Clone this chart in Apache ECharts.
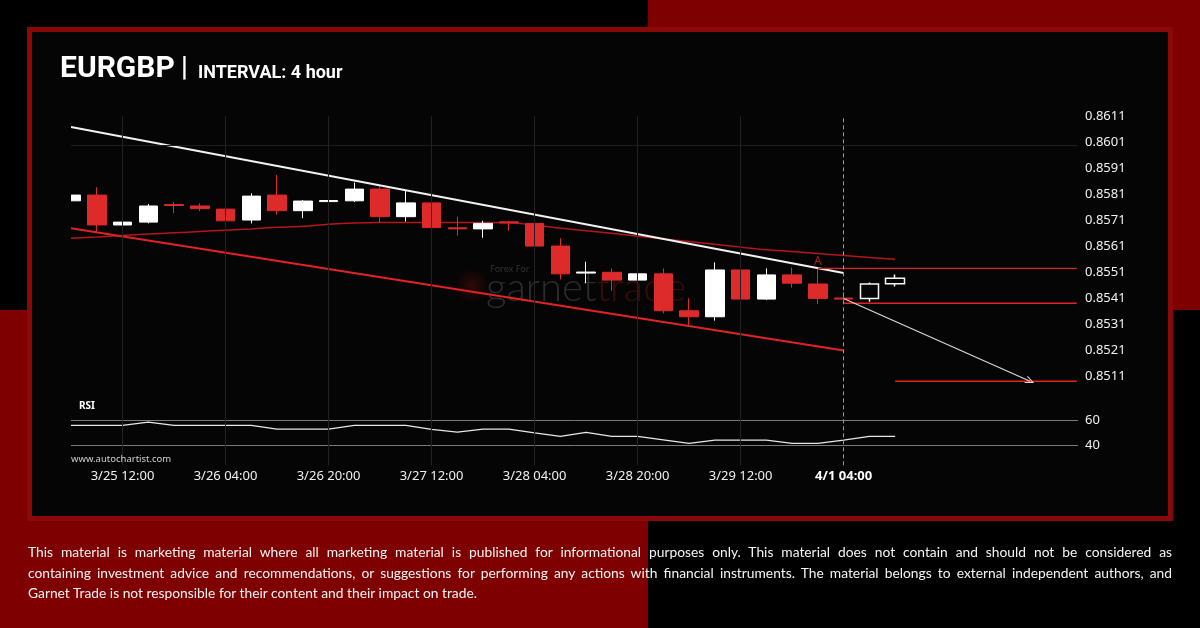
<!DOCTYPE html>
<html>
<head>
<meta charset="utf-8">
<script src="https://cdn.jsdelivr.net/npm/echarts@6.0.0/dist/echarts.min.js"></script>
<style>
html,body{margin:0;padding:0;background:#000;width:1200px;height:628px;overflow:hidden;position:relative}
#bg1{position:absolute;left:648px;top:0;width:552px;height:310px;background:#7f0000}
#bg2{position:absolute;left:0;top:310px;width:648px;height:318px;background:#7f0000}
#frame{position:absolute;left:27px;top:27px;width:1136px;height:484px;border:5px solid #8a0808;background:#050505}
#chart{position:absolute;left:0;top:0;width:1200px;height:628px}
#foot{position:absolute;left:28px;top:542px;width:1144px;font-family:Lato,"Noto Sans",sans-serif;font-size:13.8px;line-height:20.5px;color:#f4f4f4}
#foot .j{text-align:justify;text-align-last:justify}
</style>
</head>
<body>
<div id="bg1"></div>
<div id="bg2"></div>
<div id="frame"></div>
<div id="chart"></div>
<div id="foot">
<div class="j">This material is marketing material where all marketing material is published for informational purposes only. This material does not contain and should not be considered as</div>
<div class="j">containing investment advice and recommendations, or suggestions for performing any actions with financial instruments. The material belongs to external independent authors, and</div>
<div>Garnet Trade is not responsible for their content and their impact on trade.</div>
</div>
<script>
// ---- data (4-hour candles, index 0 = 3/25 04:00) ----
const opens  = [0.85785,0.85807,0.85692,0.85703,0.85771,0.85765,0.85753,0.85711,0.85807,0.85747,0.85782,0.85785,0.85830,0.85724,0.85777,0.85681,0.85677,0.85704,0.85698,0.85611,0.85507,0.85510,0.85480,0.85504,0.85362,0.85339,0.85519,0.85407,0.85500,0.85465,0.85411,0.85409,0.85466];
const closes = [0.85807,0.85692,0.85703,0.85765,0.85767,0.85755,0.85708,0.85803,0.85747,0.85784,0.85786,0.85830,0.85724,0.85777,0.85682,0.85677,0.85698,0.85700,0.85611,0.85504,0.85511,0.85480,0.85504,0.85362,0.85339,0.85519,0.85407,0.85500,0.85468,0.85409,0.85407,0.85465,0.85487];
const lows   = [0.85783,0.85666,0.85653,0.85698,0.85737,0.85745,0.85696,0.85698,0.85733,0.85718,0.85752,0.85780,0.85701,0.85705,0.85651,0.85651,0.85643,0.85670,0.85602,0.85483,0.85468,0.85439,0.85448,0.85352,0.85303,0.85324,0.85372,0.85403,0.85451,0.85388,0.85391,0.85397,0.85455];
const highs  = [0.85809,0.85837,0.85734,0.85773,0.85780,0.85775,0.85785,0.85814,0.85884,0.85788,0.85795,0.85855,0.85842,0.85824,0.85801,0.85724,0.85708,0.85708,0.85700,0.85641,0.85551,0.85525,0.85506,0.85525,0.85410,0.85548,0.85542,0.85525,0.85528,0.85525,0.85435,0.85471,0.85502];
const hollowIdx = [31, 32];
const maValues = [0.85641,0.85646,0.85652,0.85657,0.85662,0.85667,0.85672,0.85677,0.85683,0.85687,0.85695,0.85700,0.85702,0.85702,0.85702,0.85702,0.85702,0.85701,0.85692,0.85680,0.85670,0.85660,0.85649,0.85638,0.85628,0.85618,0.85607,0.85597,0.85590,0.85582,0.85575,0.85567,0.85560];
const rsiValues = [56,56,56,58.6,56,56,56,56,53,53,53,56,56,56,52.8,50.6,53,53,50,47.2,50.4,47.2,47.2,44.4,41.6,44.2,44.2,44.2,41.6,41.6,44.2,47.2,47.2];
const upperTrend = [[0,0.86069],[30,0.85507]];
const lowerTrend = [[0,0.85679],[30,0.85209]];
const resistance = [[29,0.85525],[39.05,0.85525]];
const support    = [[30,0.85391],[39.05,0.85391]];
const target     = [[32,0.85091],[39.05,0.85091]];
const forecast   = [[30,0.85409],[37.24,0.85091]];
const patternPoint = [29,0.85525];
const xLabelIdx = [2,6,10,14,18,22,26,30];
const xLabels = ['3/25 12:00','3/26 04:00','3/26 20:00','3/27 12:00','3/28 04:00','3/28 20:00','3/29 12:00','4/1 04:00'];
const priceTicks = [0.8511,0.8521,0.8531,0.8541,0.8551,0.8561,0.8571,0.8581,0.8591,0.8601,0.8611];
const rsiTicks = [40,60];

// ---- build ----
const candleData = opens.map((o,i)=>{
  const item = {value:[i,o,closes[i],lows[i],highs[i]]};
  if (hollowIdx.indexOf(i) >= 0) item.itemStyle = {color:'#050505', borderColor:'#f5f5f5', borderWidth:1.5};
  return item;
});
const FONT = '"Noto Sans", "DejaVu Sans", sans-serif';
const lastLabel = xLabels.length - 1;
const vGrid = xLabelIdx.slice(0,-1).map(i=>({xAxis:i, lineStyle:{color:'#222222', width:1, type:'solid'}}));
const dashLine = {xAxis:xLabelIdx[lastLabel], lineStyle:{color:'#9a9a9a', width:1, type:[4,3]}};
const hGrid = priceTicks.slice(0,-1).map(v=>({yAxis:v, lineStyle:{color:'#1d1d1d', width:1, type:'solid'}}));
const rsiGrid = rsiTicks.map(v=>({yAxis:v, lineStyle:{color:'#7a7a7a', width:1, type:'solid'}}));
const mlBase = {symbol:'none', silent:true, animation:false, label:{show:false}, emphasis:{disabled:true}};

const option = {
  animation:false,
  backgroundColor:'transparent',
  grid:[
    {left:71, right:122, top:116.3, height:286},
    {left:71, right:122, top:400.3, height:65}
  ],
  xAxis:[
    {gridIndex:0, type:'value', min:0, max:39.1, axisLine:{show:false}, axisTick:{show:false}, axisLabel:{show:false}, splitLine:{show:false}},
    {gridIndex:1, type:'value', min:0, max:39.1, interval:1, axisLine:{show:false}, axisTick:{show:false}, splitLine:{show:false},
     axisLabel:{show:true, margin:4, color:'#f0f0f0', fontSize:13, fontFamily:FONT, showMinLabel:true, showMaxLabel:true,
       formatter:function(v){
         const r = Math.round(v);
         if (Math.abs(v-r) > 1e-6) return '';
         const k = xLabelIdx.indexOf(r);
         if (k < 0) return '';
         return k === lastLabel ? '{b|' + xLabels[k] + '}' : xLabels[k];
       },
       rich:{b:{fontWeight:'bold', fontSize:13, color:'#ffffff', fontFamily:FONT}}
     }}
  ],
  yAxis:[
    {gridIndex:0, type:'value', position:'right', min:0.8501, max:0.8611, interval:0.0001,
     axisLine:{show:false}, axisTick:{show:false}, splitLine:{show:false},
     axisLabel:{margin:7, color:'#f0f0f0', fontSize:13, fontFamily:FONT,
       formatter:function(v){
         for (const t of priceTicks) if (Math.abs(v-t) < 1e-7) return t.toFixed(4);
         return '';
       }}},
    {gridIndex:1, type:'value', position:'right', min:24, max:76, interval:4,
     axisLine:{show:false}, axisTick:{show:false}, splitLine:{show:false},
     axisLabel:{margin:7, color:'#f0f0f0', fontSize:13, fontFamily:FONT,
       formatter:function(v){ return rsiTicks.indexOf(Math.round(v))>=0 && Math.abs(v-Math.round(v))<1e-6 ? String(Math.round(v)) : ''; }}}
  ],
  series:[
    {type:'line', xAxisIndex:0, yAxisIndex:0, z:1, data:[[0,0.8561]], symbol:'none', lineStyle:{opacity:0}, silent:true,
     markLine:Object.assign({}, mlBase, {data: hGrid.concat(vGrid, [dashLine])})},
    {type:'line', xAxisIndex:1, yAxisIndex:1, z:1, data:[[0,50]], symbol:'none', lineStyle:{opacity:0}, silent:true,
     markLine:Object.assign({}, mlBase, {data: rsiGrid.concat(vGrid, [dashLine])})},
    {name:'MA', type:'line', xAxisIndex:0, yAxisIndex:0, z:2, data:maValues.map((v,i)=>[i,v]), symbol:'none', smooth:0.3,
     lineStyle:{color:'#b3161b', width:1.5}},
    {name:'EURGBP', type:'candlestick', xAxisIndex:0, yAxisIndex:0, z:3, barWidth:19, clip:true,
     dimensions:['t','open','close','lowest','highest'], encode:{x:0, y:[1,2,3,4]},
     itemStyle:{color:'#ffffff', color0:'#dd2a2a', borderColor:'#ffffff', borderColor0:'#dd2a2a', borderWidth:1},
     data:candleData,
     markPoint:{symbol:'circle', symbolSize:0.1, silent:true, animation:false,
       label:{show:true, position:'top', distance:1, formatter:'A', color:'#b01c1c', fontSize:12, fontFamily:FONT},
       data:[{coord:patternPoint}]}},
    {name:'upper', type:'line', xAxisIndex:0, yAxisIndex:0, z:4, data:upperTrend, symbol:'none', lineStyle:{color:'#f2f2f2', width:2}},
    {name:'lower', type:'line', xAxisIndex:0, yAxisIndex:0, z:4, data:lowerTrend, symbol:'none', lineStyle:{color:'#e32222', width:2}},
    {name:'resistance', type:'line', xAxisIndex:0, yAxisIndex:0, z:4, data:resistance, symbol:'none', lineStyle:{color:'#e32222', width:1.3}},
    {name:'support', type:'line', xAxisIndex:0, yAxisIndex:0, z:4, data:support, symbol:'none', lineStyle:{color:'#e32222', width:1.3}},
    {name:'target', type:'line', xAxisIndex:0, yAxisIndex:0, z:4, data:target, symbol:'none', lineStyle:{color:'#e32222', width:1.3},
     markLine:{silent:true, animation:false, label:{show:false}, symbol:['none','path://M5,0 L10,10 L8.6,10 L5,2.8 L1.4,10 L0,10 Z'], symbolSize:[8,9],
       lineStyle:{color:'#d8d8d8', width:1.2, type:'solid'},
       data:[[{coord:forecast[0]},{coord:forecast[1]}]]}},
    {name:'RSI', type:'line', xAxisIndex:1, yAxisIndex:1, z:3, data:rsiValues.map((v,i)=>[i,v]), symbol:'none', lineStyle:{color:'#e8e8e8', width:1.2}}
  ],
  graphic:[
    {type:'circle', z:1, silent:true, shape:{cx:472, cy:286, r:18},
     style:{fill:{type:'radial', x:0.5, y:0.5, r:0.5, colorStops:[{offset:0,color:'rgba(100,15,15,0.45)'},{offset:1,color:'rgba(100,15,15,0)'}]}}},
    {type:'text', z:1, silent:true, style:{x:490, y:269, text:'Forex For', fill:'#333333', font:'9px ' + FONT, textVerticalAlign:'middle'}},
    {type:'text', z:1, silent:true, style:{x:486, y:288, text:'{a|garnet}{b|trade}', textVerticalAlign:'middle',
      rich:{a:{fill:'#2c2c2c', color:'#2c2c2c', fontSize:40, fontWeight:300, fontFamily:'Lato, "Open Sans", sans-serif'},
            b:{fill:'#3e0b0b', color:'#3e0b0b', fontSize:40, fontWeight:300, fontFamily:'Lato, "Open Sans", sans-serif'}}}},
    // mask so the first candle is cut at the plot's left edge, as in the original
    {type:'rect', z:20, silent:true, shape:{x:40, y:116, width:31, height:286}, style:{fill:'#050505'}},
    {type:'text', z:21, silent:true, style:{x:60, y:69, text:'EURGBP', fill:'#ffffff', font:'bold 30px Roboto', textVerticalAlign:'middle'}},
    {type:'text', z:21, silent:true, style:{x:181, y:69, text:'|', fill:'#ffffff', font:'bold 27px Roboto', textVerticalAlign:'middle'}},
    {type:'text', z:21, silent:true, style:{x:198, y:73, text:'INTERVAL: 4 hour', fill:'#ffffff', font:'bold 18px Roboto', textVerticalAlign:'middle'}},
    {type:'text', z:21, silent:true, style:{x:79, y:406, text:'RSI', fill:'#ffffff', font:'bold 10px ' + FONT, textVerticalAlign:'middle'}},
    {type:'text', z:21, silent:true, style:{x:71, y:459, text:'www.autochartist.com', fill:'#d0d0d0', font:'9.5px ' + FONT, textVerticalAlign:'middle'}}
  ]
};
const chart = echarts.init(document.getElementById('chart'), null, {renderer:'canvas'});
chart.setOption(option);
</script>
</body>
</html>
